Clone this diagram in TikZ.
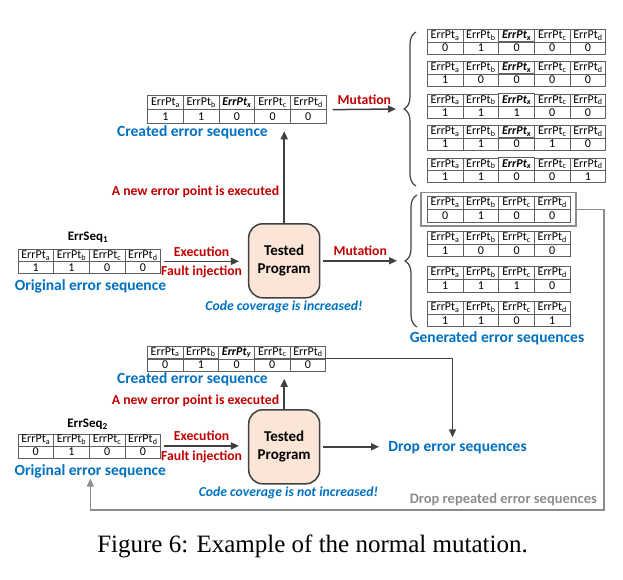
\documentclass[tikz,border=0pt]{standalone}
\usepackage{fontspec}
\setmainfont{Carlito}
\newfontfamily\capfont{Liberation Serif}
\usetikzlibrary{arrows.meta,calc,positioning,matrix,fit,decorations.pathreplacing}

\definecolor{errblue}{HTML}{0070C0}
\definecolor{errred}{HTML}{C00000}
\definecolor{dropgray}{HTML}{8C8C8C}
\definecolor{progfill}{HTML}{FBE5D6}
\definecolor{darkline}{HTML}{404040}
\definecolor{tabline}{HTML}{606060}

\newcommand{\ept}[1]{ErrPt\textsubscript{#1}}
\newcommand{\eptn}[1]{\textbf{\textit{ErrPt\textsubscript{#1}}}}

\tikzset{
  errtab/.style={matrix of nodes, anchor=north west, inner sep=0pt,
    column sep=-0.8pt, row sep=-0.8pt,
    nodes={draw=tabline, line width=0.8pt, minimum width=35.7pt,
      minimum height=12.25pt, inner sep=0pt, font=\fontsize{12}{12}\selectfont}},
  bluelbl/.style={text=errblue, font=\bfseries\fontsize{15.5}{17}\selectfont, inner sep=0pt},
  redlbl/.style={text=errred, font=\bfseries\fontsize{13.7}{15}\selectfont, inner sep=0pt},
  covlbl/.style={text=errblue, font=\bfseries\itshape\fontsize{13.7}{15}\selectfont, inner sep=0pt},
  seqname/.style={font=\bfseries\fontsize{13}{14}\selectfont, inner sep=0pt},
  progbox/.style={draw=darkline, fill=progfill, line width=1.5pt, rounded corners=14pt,
    minimum width=71pt, minimum height=74pt, align=center,
    font=\bfseries\fontsize{15}{18.3}\selectfont},
  arr/.style={draw=darkline, line width=1.5pt, -{Triangle[length=8pt,width=7pt]}},
  grayarr/.style={draw=dropgray, line width=1.5pt, -{Triangle[length=8pt,width=7pt]}},
  brc/.style={draw=darkline, line width=1.2pt, decorate, decoration={brace, amplitude=12pt}},
}

\begin{document}
\begin{tikzpicture}[x=1pt,y=-1pt]
  \useasboundingbox (0,0) rectangle (623,580);

  \matrix (crt1) [errtab, nodes={minimum height=14pt}] at (147,95) {
    \ept{a} & \ept{b} & \eptn{x} & \ept{c} & \ept{d} \\
    1 & 1 & 0 & 0 & 0 \\
  };
  \node (crtlbl1) [bluelbl] at (192.5,132.7) {Created error sequence};
  \node (newlbl1) [redlbl] at (195.5,191.7) {A new error point is executed};
  \node (nm1) [seqname] at (88,237.3) {ErrSeq\textsubscript{1}};
  \matrix (seq1) [errtab, nodes={minimum height=11.75pt}] at (17.3,249) {
    \ept{a} & \ept{b} & \ept{c} & \ept{d} \\
    1 & 1 & 0 & 0 \\
  };
  \node (orglbl1) [bluelbl] at (90.5,286) {Original error sequence};
  \node (prog1) [progbox] at (284.2,260.8) {Tested\\Program};
  \node (covlbl1) [covlbl] at (284,307.3) {Code coverage is increased!};

  \matrix (mutA) [errtab] at (426.7,29) {
    \ept{a} & \ept{b} & \eptn{x} & \ept{c} & \ept{d} \\ 0 & 1 & 0 & 0 & 0 \\
  };
  \matrix (mutB) [errtab] at (426.7,61) {
    \ept{a} & \ept{b} & \eptn{x} & \ept{c} & \ept{d} \\ 1 & 0 & 0 & 0 & 0 \\
  };
  \matrix (mutC) [errtab] at (426.7,93.3) {
    \ept{a} & \ept{b} & \eptn{x} & \ept{c} & \ept{d} \\ 1 & 1 & 1 & 0 & 0 \\
  };
  \matrix (mutD) [errtab] at (426.7,125) {
    \ept{a} & \ept{b} & \eptn{x} & \ept{c} & \ept{d} \\ 1 & 1 & 0 & 1 & 0 \\
  };
  \matrix (mutE) [errtab] at (426.7,157.3) {
    \ept{a} & \ept{b} & \eptn{x} & \ept{c} & \ept{d} \\ 1 & 1 & 0 & 0 & 1 \\
  };

  \matrix (genA) [errtab, nodes={minimum height=12.75pt}] at (426.7,196) {
    \ept{a} & \ept{b} & \ept{c} & \ept{d} \\ 0 & 1 & 0 & 0 \\
  };
  \matrix (genB) [errtab, nodes={minimum height=12.75pt}] at (426.7,230.7) {
    \ept{a} & \ept{b} & \ept{c} & \ept{d} \\ 1 & 0 & 0 & 0 \\
  };
  \matrix (genC) [errtab, nodes={minimum height=12.75pt}] at (426.7,266) {
    \ept{a} & \ept{b} & \ept{c} & \ept{d} \\ 1 & 1 & 1 & 0 \\
  };
  \matrix (genD) [errtab, nodes={minimum height=12.75pt}] at (426.7,300.7) {
    \ept{a} & \ept{b} & \ept{c} & \ept{d} \\ 1 & 1 & 0 & 1 \\
  };
  \node (hl) [fit=(genA), draw=dropgray, line width=1.8pt, inner xsep=5.5pt, inner ysep=3.5pt] {};
  \node (genlbl) [bluelbl] at (497,338.3) {Generated error sequences};

  \draw[brc] (416,186) -- (416,32);
  \draw[brc] (417,327) -- (417,195);
  \coordinate (tip1) at (396,109);
  \coordinate (tip2) at (397,260.8);
  \coordinate (up1) at ($(crt1.south -| prog1.north)+(0,7)$);

  \draw[arr] (prog1.north) -- (up1);
  \draw[arr] ([xshift=6pt]crt1.east) -- (tip1) node (mutlbl1) [redlbl, midway, above=4pt] {Mutation};
  \draw[arr] ([xshift=3pt]prog1.east) -- (tip2) node (mutlbl2) [redlbl, midway, above=4pt] {Mutation};
  \draw[arr] ([xshift=3pt]seq1.east) -- ([xshift=-9pt]seq1.east -| prog1.west)
    node (exlbl1) [redlbl, midway, above=4.5pt] {Execution}
    node (filbl1) [redlbl, midway, below=4pt] {Fault injection};

  \matrix (crt2) [errtab] at (146.7,345.5) {
    \ept{a} & \ept{b} & \eptn{y} & \ept{c} & \ept{d} \\
    0 & 1 & 0 & 0 & 0 \\
  };
  \node (crtlbl2) [bluelbl] at (192.5,379.3) {Created error sequence};
  \node (newlbl2) [redlbl] at (195.5,401) {A new error point is executed};
  \node (nm2) [seqname] at (87.5,424) {ErrSeq\textsubscript{2}};
  \matrix (seq2) [errtab, nodes={minimum height=12pt}] at (17.3,433.3) {
    \ept{a} & \ept{b} & \ept{c} & \ept{d} \\
    0 & 1 & 0 & 0 \\
  };
  \node (orglbl2) [bluelbl] at (90.3,471.7) {Original error sequence};
  \node (prog2) [progbox] at (284.2,446.8) {Tested\\Program};
  \node (covlbl2) [covlbl] at (288.5,493.3) {Code coverage is not increased!};
  \node (drop) [bluelbl] at (457.5,447.7) {Drop error sequences};
  \node (droprep) [bluelbl, text=dropgray, font=\bfseries\fontsize{14.5}{16}\selectfont] at (503.3,500) {Drop repeated error sequences};
  \coordinate (up2) at ($(crt2.south -| prog2.north)+(0,7)$);
  \coordinate (loopc) at (604,510);

  \draw[arr] (prog2.north) -- (up2);
  \draw[arr] ([xshift=3pt]seq2.east) -- ([xshift=-9pt]seq2.east -| prog2.west)
    node (exlbl2) [redlbl, midway, above=4.5pt] {Execution}
    node (filbl2) [redlbl, midway, below=4pt] {Fault injection};
  \draw[arr] ([xshift=3pt]prog2.east) -- ([xshift=-9pt]prog2.east -| drop.west);
  \draw[arr] (crt2.east) -| ([xshift=-5pt,yshift=4pt]drop.north);
  \draw[grayarr] (hl.east) -| (loopc) -| (orglbl2.south);

  \node (cap) [font=\capfont\fontsize{25}{30}\selectfont, inner sep=0pt] at (312.5,546) {Figure 6: Example of the normal mutation.};
\end{tikzpicture}
\end{document}
